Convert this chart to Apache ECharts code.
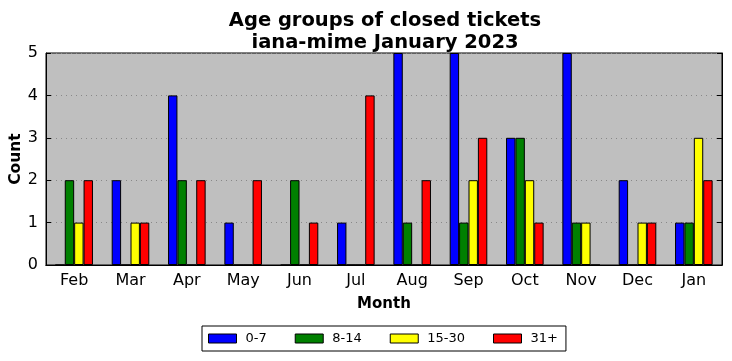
<!DOCTYPE html>
<html><head><meta charset="utf-8">
<script src="https://cdn.jsdelivr.net/npm/echarts@6/dist/echarts.min.js"></script>
<style>html,body{margin:0;padding:0;background:#fff}#c{width:732px;height:361px}</style>
</head><body><div id="c"></div>
<script>
const months = ["Feb","Mar","Apr","May","Jun","Jul","Aug","Sep","Oct","Nov","Dec","Jan"];
const age0_7   = [0,2,4,1,0,1,5,5,3,5,2,1];
const age8_14  = [2,0,2,0,2,0,1,1,3,1,0,1];
const age15_30 = [1,1,0,0,0,0,0,2,2,1,1,3];
const age31p   = [2,1,2,2,1,4,2,3,1,0,1,2];
const seriesNames = ["0-7","8-14","15-30","31+"];
const seriesColors = ["#0000ff","#008000","#ffff00","#ff0000"];
const seriesData = [age0_7, age8_14, age15_30, age31p];
const font = "DejaVu Sans";
const chart = echarts.init(document.getElementById('c'));
chart.setOption({
  animation:false,
  textStyle:{fontFamily:font},
  title:{text:"Age groups of closed tickets\niana-mime January 2023",left:380,top:5,textAlign:'center',
    textStyle:{fontFamily:font,fontWeight:'bold',fontSize:19.5,color:'#000',lineHeight:22}},
  grid:{left:46,right:10,top:53,bottom:96,show:true,backgroundColor:'#bfbfbf',borderColor:'#000',borderWidth:1,
    containLabel:false,outerBoundsMode:'none'},
  legend:{bottom:10,left:202,data:seriesNames,itemWidth:28,itemHeight:9,itemGap:28,icon:'rect',
    borderColor:'#000',borderWidth:1,padding:[6,8,6,6],borderRadius:0,
    textStyle:{fontFamily:font,fontSize:13,color:'#000',padding:[0,0,0,4]},
    itemStyle:{borderColor:'#000',borderWidth:1}},
  xAxis:[{type:'category',data:months,boundaryGap:true,name:'Month',nameLocation:'middle',nameGap:32,
    nameTextStyle:{fontFamily:font,fontWeight:'bold',fontSize:15,color:'#000'},
    axisLine:{lineStyle:{color:'#000'}},axisTick:{inside:true,alignWithLabel:true,length:5,lineStyle:{color:'#000'}},
    axisLabel:{fontFamily:font,fontSize:16,color:'#000',margin:8}},
   {type:'category',data:months,position:'top',boundaryGap:true,
    axisLine:{lineStyle:{color:'#000'}},axisTick:{inside:true,alignWithLabel:true,length:5,lineStyle:{color:'#000'}},
    axisLabel:{show:false}}],
  yAxis:[{type:'value',min:0,max:5,interval:1,name:'Count',nameLocation:'middle',nameGap:22,nameMoveOverlap:false,
    nameTextStyle:{fontFamily:font,fontWeight:'bold',fontSize:15.5,color:'#000'},
    axisLine:{show:true,lineStyle:{color:'#000'}},axisTick:{show:true,inside:true,length:5,lineStyle:{color:'#000'}},
    axisLabel:{fontFamily:font,fontSize:16,color:'#000',margin:8},
    splitLine:{show:true,lineStyle:{color:'#888',type:[1,4],width:1}}},
   {type:'value',min:0,max:5,interval:1,position:'right',
    axisLine:{show:true,lineStyle:{color:'#000'}},axisTick:{show:true,inside:true,length:5,lineStyle:{color:'#000'}},
    axisLabel:{show:false},splitLine:{show:false}}],
  series: seriesNames.map((n,i)=>({name:n,type:'bar',data:seriesData[i],barWidth:9.4,barGap:'0%',
    itemStyle:{color:seriesColors[i],borderColor:'#000',borderWidth:1}}))
});
</script></body></html>
